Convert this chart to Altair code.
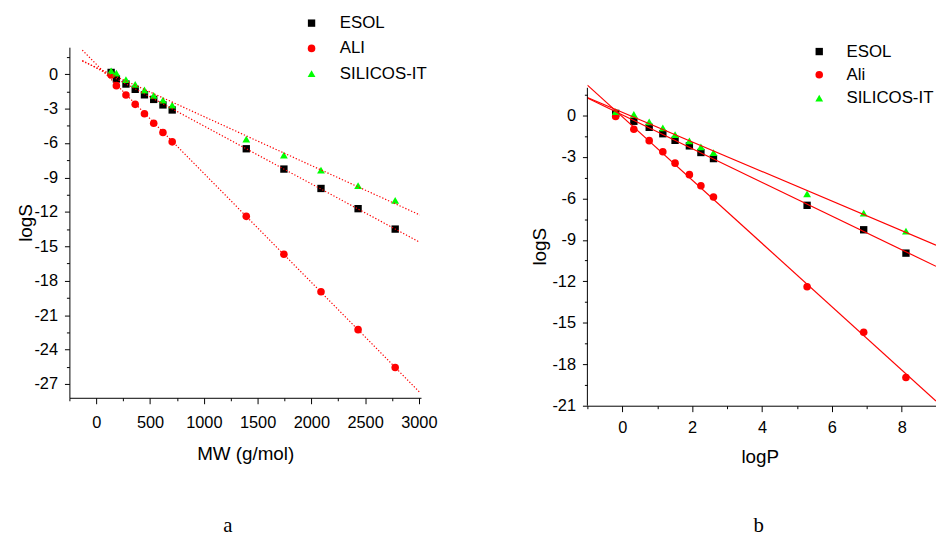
import altair as alt
import pandas as pd

# ---------------- data ----------------
methods_a = ["ESOL", "ALI", "SILICOS-IT"]
methods_b = ["ESOL", "Ali", "SILICOS-IT"]
colors = ["#000000", "#ff0000", "#00ff00"]
shapes = ["square", "circle", "triangle-up"]
sizes = [55, 62, 80]

mw = [138, 187, 276, 362, 448, 534, 620, 706, 1395, 1745, 2090, 2435, 2780]
logp = [-0.19, 0.33, 0.77, 1.16, 1.51, 1.92, 2.25, 2.61, 5.29, 6.91, 8.12]
logs_esol = [0.15, -0.42, -0.86, -1.32, -1.8, -2.2, -2.68, -3.12, -6.5, -8.27, -9.96, -11.72, -13.5]
logs_ali = [-0.08, -1.0, -1.82, -2.63, -3.45, -4.28, -5.08, -5.9, -12.39, -15.69, -18.96, -22.26, -25.56]
logs_silicos = [0.28, 0.08, -0.47, -0.9, -1.38, -1.84, -2.27, -2.69, -5.67, -7.06, -8.37, -9.72, -11.0]

xa_ticks = [-250, 0, 250, 500, 750, 1000, 1250, 1500, 1750, 2000, 2250, 2500, 2750, 3000]
ya_ticks = [-27, -25.5, -24, -22.5, -21, -19.5, -18, -16.5, -15, -13.5, -12, -10.5, -9, -7.5,
            -6, -4.5, -3, -1.5, 0, 1.5]
xb_ticks = [-1, 0, 1, 2, 3, 4, 5, 6, 7, 8]
yb_ticks = [-21, -19.5, -18, -16.5, -15, -13.5, -12, -10.5, -9, -7.5, -6, -4.5, -3, -1.5, 0, 1.5]
captions = ["a", "b"]

series = [logs_esol, logs_ali, logs_silicos]
rows_a, rows_b = [], []
for ma, mb, vals in zip(methods_a, methods_b, series):
    for x, y in zip(mw, vals):
        rows_a.append({"method": ma, "MW": x, "logS": y})
    for x, y in zip(logp, vals):
        rows_b.append({"method": mb, "logP": x, "logS": y})
df_a = pd.DataFrame(rows_a)
df_b = pd.DataFrame(rows_b)

FONT = "Liberation Sans"


def axis(title, values, major, tick_major, label_pad, **kw):
    test = f"abs(datum.value % {major}) < 1e-9"
    return alt.Axis(
        title=title, values=values, grid=False,
        labelExpr=f"{test} ? '' + datum.value : ''",
        tickSize={"condition": {"test": test, "value": tick_major}, "value": 3},
        labelPadding=label_pad, labelOverlap=False, labelFlush=False,
        **kw)


def legend(x, y, row_pad, label_off):
    return alt.Legend(orient="none", legendX=x, legendY=y, title=None,
                      labelFontSize=17, labelFont=FONT, labelColor="#000000",
                      symbolSize=30, symbolStrokeWidth=0, rowPadding=row_pad,
                      labelOffset=label_off, padding=0)


def panel(df, xfield, xscale, xaxis, yscale, yaxis, methods, leg, dash, extent,
          w, h, frame, cap, cap_x, cap_y, axis_top=None):
    X = alt.X(f"{xfield}:Q", scale=xscale, axis=xaxis)
    Y = alt.Y("logS:Q", scale=yscale, axis=yaxis)
    pts = alt.Chart(df).mark_point(filled=True, opacity=1).encode(
        x=X, y=Y,
        color=alt.Color("method:N", scale=alt.Scale(domain=methods, range=colors), legend=leg),
        shape=alt.Shape("method:N", scale=alt.Scale(domain=methods, range=shapes), legend=leg),
        size=alt.Size("method:N", scale=alt.Scale(domain=methods, range=sizes), legend=None),
    )
    line_kw = dict(color="#ff0000", strokeWidth=1.2, clip=True)
    if dash:
        line_kw["strokeDash"] = dash
    lines = alt.Chart(df).transform_regression(
        xfield, "logS", groupby=["method"], extent=extent
    ).mark_line(**line_kw).encode(x=X, y=Y, detail="method:N")
    one = alt.Chart(pd.DataFrame({"cap": [cap]}))
    bound = one.mark_rule(opacity=0).encode(
        x=alt.value(frame[0]), x2=alt.value(frame[1]), y=alt.value(frame[2]))
    caption = one.mark_text(font="Liberation Serif", fontSize=21, baseline="middle",
                            color="#000000").encode(
        x=alt.value(cap_x), y=alt.value(cap_y), text="cap:N")
    layers = [pts, lines, bound, caption]
    if axis_top is not None:
        layers.append(one.mark_rule(color="#000000", strokeWidth=1).encode(
            x=alt.value(0), y=alt.value(axis_top), y2=alt.value(h)))
    return alt.layer(*layers).properties(width=w, height=h)


left = panel(
    df_a, "MW",
    alt.Scale(domain=[-250, 3020], nice=False, zero=False),
    axis("MW (g/mol)", xa_ticks, 500, 6, 11, titleY=56, titleBaseline="middle"),
    alt.Scale(domain=[-28.2, 2.35], nice=False, zero=False),
    axis("logS", ya_ticks, 3, 5, 7, titleX=-44, titleBaseline="middle"),
    methods_a, legend(236, -32.8, 7.5, 20), [1.3, 1.9], [-130, 3010],
    355, 354, (-61.3, 398.7, -37), captions[0], 160, 484,
)

right = panel(
    df_b, "logP",
    alt.Scale(domain=[-1, 8.98], nice=False, zero=False),
    axis("logP", xb_ticks, 2, 6, 8, titleY=51, titleX=174, titleBaseline="middle"),
    alt.Scale(domain=[-21, 4.94], nice=False, zero=False),
    axis("logS", yb_ticks, 3, 5, 7, titleX=-48, titleY=201, titleBaseline="middle",
         domain=False),
    methods_b, legend(225.6, -4.1, 5.5, 19), None, [-1, 8.98],
    352, 362, (-123.4, 0, -37), captions[1], 173, 484, axis_top=41.0,
)

chart = alt.hconcat(left, right, spacing=0).resolve_scale(
    color="independent", shape="independent", size="independent"
).properties(padding=0).configure_view(stroke=None).configure_axis(
    labelFont=FONT, titleFont=FONT, labelFontSize=16.5, titleFontSize=19,
    titleFontWeight="normal", labelColor="#000000", titleColor="#000000",
    domainColor="#000000", tickColor="#000000", domainWidth=1, tickWidth=1,
)

chart.save("out.html", embed_options={"renderer": "svg", "actions": False})
